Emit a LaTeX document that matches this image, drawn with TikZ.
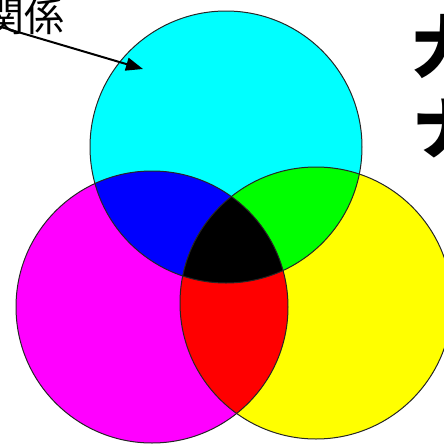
\documentclass[tikz,border=0pt]{standalone}
\usepackage{fontspec}
\newfontfamily\jp{Noto Sans CJK JP}
\usetikzlibrary{arrows.meta}
\definecolor{cC}{RGB}{0,255,255}
\definecolor{cM}{RGB}{255,0,255}
\definecolor{cY}{RGB}{255,255,0}
\definecolor{cB}{RGB}{0,0,255}
\definecolor{cG}{RGB}{0,255,0}
\definecolor{cR}{RGB}{255,0,0}
\begin{document}
\begin{tikzpicture}[x=1pt,y=-1pt,
  ring/.style={draw=black!85, line width=1pt},
  lbl/.style={inner sep=0pt, font=\jp\fontsize{40}{44}\selectfont},
  big/.style={inner sep=0pt, font=\jp\bfseries\fontsize{68}{76}\selectfont},
  pointer/.style={line width=2pt, -{Triangle[length=17pt,width=13pt]}}]
\useasboundingbox (0,0) rectangle (444,445);
\def\R{136}
\coordinate (C) at (226,147);
\coordinate (M) at (152,307);
\coordinate (Y) at (316,303);
% base discs
\fill[cC] (C) circle (\R);
\fill[cM] (M) circle (\R);
\fill[cY] (Y) circle (\R);
% pairwise overlaps
\begin{scope}\clip (C) circle (\R); \fill[cB] (M) circle (\R); \end{scope}
\begin{scope}\clip (C) circle (\R); \fill[cG] (Y) circle (\R); \end{scope}
\begin{scope}\clip (M) circle (\R); \fill[cR] (Y) circle (\R); \end{scope}
\begin{scope}\clip (C) circle (\R); \clip (M) circle (\R); \fill[black] (Y) circle (\R); \end{scope}
% outlines
\draw[ring] (C) circle (\R);
\draw[ring] (M) circle (\R);
\draw[ring] (Y) circle (\R);
% labels
\node[lbl, anchor=base east] (rel) at (65,31) {関係};
\coordinate (pstart) at (-4,25.5);
\coordinate (ptip) at (143,69);
\draw[pointer] (pstart) -- (ptip);
\node[big, anchor=base west] (t1) at (412,72) {大};
\node[big, anchor=base west] (t2) at (412,153) {ナ};
\end{tikzpicture}
\end{document}
